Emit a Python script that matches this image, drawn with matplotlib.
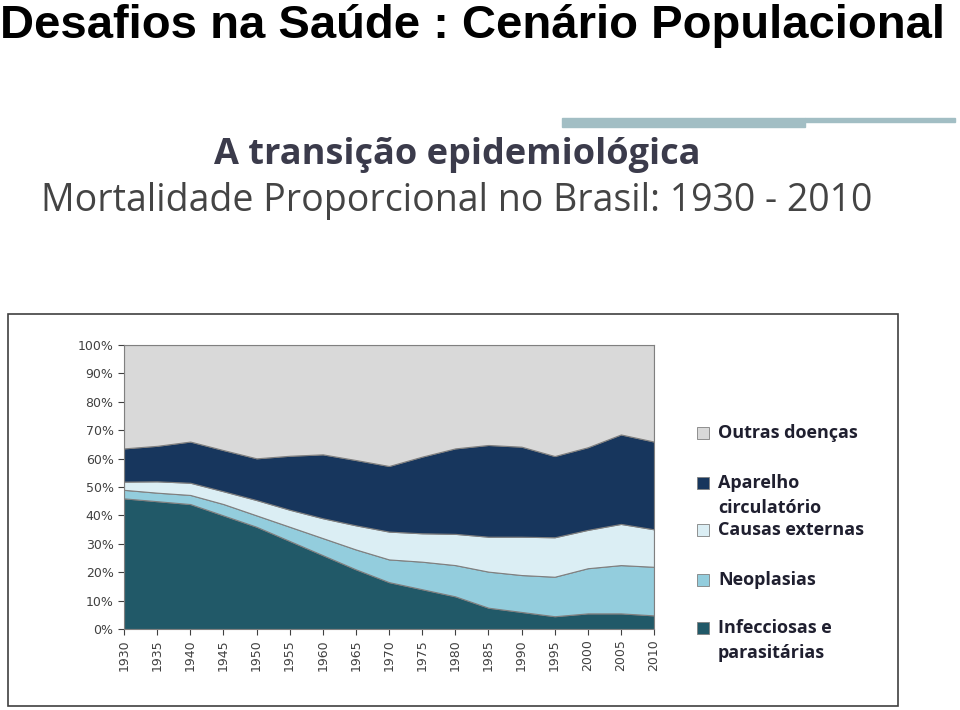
import matplotlib
matplotlib.use("Agg")
import matplotlib.pyplot as plt
from matplotlib.patches import Rectangle
from matplotlib.ticker import PercentFormatter

# dados (percentuais acumulados lidos -> convertidos em fatias)
anos = [1930, 1935, 1940, 1945, 1950, 1955, 1960, 1965, 1970,
        1975, 1980, 1985, 1990, 1995, 2000, 2005, 2010]
infecciosas = [46.0, 45.0, 44.0, 40.0, 36.0, 31.0, 26.0, 21.0, 16.5,
               14.0, 11.5, 7.5, 6.0, 4.5, 5.5, 5.5, 4.8]
neoplasias = [3.0, 3.0, 3.2, 4.0, 4.0, 5.0, 6.0, 7.0, 8.0,
              9.7, 11.0, 12.7, 13.0, 13.9, 15.9, 17.0, 17.1]
externas = [2.9, 4.0, 4.3, 4.5, 5.4, 6.0, 7.0, 8.5, 9.8,
            10.0, 11.0, 12.3, 13.5, 13.9, 13.5, 14.5, 13.2]
circulatorio = [11.7, 12.5, 14.5, 14.5, 14.7, 19.0, 22.5, 23.0, 23.1,
                27.0, 30.1, 32.3, 31.7, 28.6, 29.1, 31.5, 30.9]
outras = [100 - a - b - c - d for a, b, c, d in
          zip(infecciosas, neoplasias, externas, circulatorio)]

nomes = ["Infecciosas e\nparasitárias", "Neoplasias", "Causas externas",
         "Aparelho\ncirculatório", "Outras doenças"]
cores = ["#215968", "#93cddd", "#dbeef4", "#17365d", "#d9d9d9"]

fig = plt.figure(figsize=(9.6, 7.1), dpi=100, facecolor="white")

# titulo do slide
fig.text(0.0, 1 - 38 / 710, "Desafios na Saúde : Cenário Populacional",
         fontsize=34, fontweight="bold", va="baseline", ha="left",
         family=["Liberation Sans", "DejaVu Sans"])

# barra decorativa
fig.patches.append(Rectangle((562 / 960, 1 - 127 / 710), 243 / 960, 9 / 710,
                             transform=fig.transFigure, color="#a2bec4"))
fig.patches.append(Rectangle((805 / 960, 1 - 122 / 710), 150 / 960, 4 / 710,
                             transform=fig.transFigure, color="#a2bec4"))

fig.text(457 / 960, 1 - 155 / 710, "A transição epidemiológica",
         fontsize=26, fontweight="bold", color="#3b3b4b", ha="center", va="center",
         family=["Open Sans", "DejaVu Sans"])
fig.text(457 / 960, 1 - 201 / 710, "Mortalidade Proporcional no Brasil: 1930 - 2010",
         fontsize=27, color="#444444", ha="center", va="center",
         family=["Open Sans", "DejaVu Sans"])

# moldura do gráfico
fig.patches.append(Rectangle((8 / 960, 1 - 706 / 710), 890 / 960, 392 / 710,
                             transform=fig.transFigure, fill=False,
                             edgecolor="#404040", linewidth=1.2))

ax = fig.add_axes([124 / 960, 1 - 629 / 710, 530 / 960, 284 / 710])
ax.stackplot(anos, infecciosas, neoplasias, externas, circulatorio, outras,
             colors=cores, edgecolor="#7f7f7f", linewidth=0.8)
ax.set_xlim(1930, 2010)
ax.set_ylim(0, 100)
ax.set_xticks(anos)
ax.set_xticklabels([str(a) for a in anos], rotation=90)
ax.set_yticks(range(0, 101, 10))
ax.yaxis.set_major_formatter(PercentFormatter(decimals=0))
ax.tick_params(labelsize=9, colors="#404040", length=4, width=0.8)
for s in ax.spines.values():
    s.set_color("#808080")
    s.set_linewidth(0.8)

# legenda
itens = [(433, ["Outras doenças"], cores[4]),
         (483, ["Aparelho", "circulatório"], cores[3]),
         (530, ["Causas externas"], cores[2]),
         (580, ["Neoplasias"], cores[1]),
         (628, ["Infecciosas e", "parasitárias"], cores[0])]
for y, linhas, cor in itens:
    fig.patches.append(Rectangle((697 / 960, 1 - (y + 6) / 710), 12 / 960, 12 / 710,
                                 transform=fig.transFigure, facecolor=cor,
                                 edgecolor="#808080", linewidth=0.6))
    for k, t in enumerate(linhas):
        fig.text(718 / 960, 1 - (y + 25 * k) / 710, t, fontsize=13,
                 fontweight="bold", color="#1f1f2f", va="center", ha="left",
                 family=["Open Sans", "DejaVu Sans"])

fig.savefig("out.png", dpi=100)
